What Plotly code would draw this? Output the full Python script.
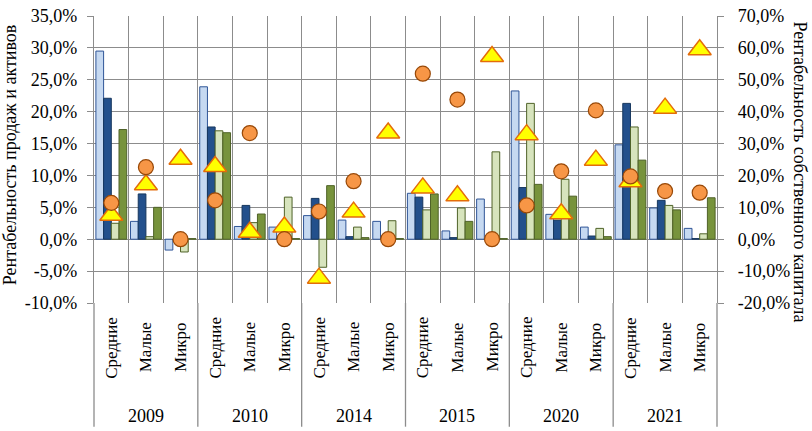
import plotly.graph_objects as go

years = ["2009", "2010", "2014", "2015", "2020", "2021"]
sizes = ["Средние", "Малые", "Микро"]
categories = [f"{y} {s}" for y in years for s in sizes]

# Left axis (%), bars
light_blue = [29.5, 2.8, -1.7, 23.9, 2.0, 1.9, 3.7, 3.0, 2.8, 7.2, 1.3, 6.3, 23.25, 3.9, 1.9, 14.8, 4.9, 1.7]
dark_blue = [22.1, 7.1, -0.1, 17.6, 5.3, 0.2, 6.4, 0.4, 0.1, 6.6, 0.25, 0.1, 8.1, 3.0, 0.5, 21.3, 6.1, 0.1]
light_green = [2.5, 0.4, -2.0, 17.0, 2.6, 6.6, -4.4, 1.9, 2.9, 4.6, 4.9, 13.7, 21.3, 9.4, 1.7, 17.6, 5.3, 0.85]
dark_green = [17.2, 5.0, 0.1, 16.7, 3.95, 0.1, 8.4, 0.25, 0.1, 7.1, 2.8, 0.1, 8.6, 6.75, 0.4, 12.4, 4.6, 6.5]

# Right axis (%), markers
circles = [11.4, 22.6, 0.0, 12.2, 33.3, 0.0, 8.7, 18.2, 0.0, 51.9, 43.8, 0.0, 10.6, 21.3, 40.4, 19.7, 15.1, 14.6]
triangles = [7.5, 17.1, 25.1, 22.8, 2.2, 3.8, -12.2, 8.5, 33.3, 16.1, 13.6, 57.3, 32.8, 8.0, 24.8, 18.0, 41.1, 59.4]

left_ticks = [-10, -5, 0, 5, 10, 15, 20, 25, 30, 35]
right_ticks = [-20, -10, 0, 10, 20, 30, 40, 50, 60, 70]


def pct(v):
    return f"{v:.1f}%".replace(".", ",")


FONT = "Liberation Serif, Times New Roman, Tinos, serif"
GRID = "#8c8c8c"
xs = list(range(len(categories)))

fig = go.Figure()
bar_specs = [
    ("Ряд 1", light_blue, "#c6d9f1", "#2f5597"),
    ("Ряд 2", dark_blue, "#23508c", "#17375e"),
    ("Ряд 3", light_green, "#d7e4bd", "#4f6228"),
    ("Ряд 4", dark_green, "#77933c", "#4f6228"),
]
for name, vals, fill, edge in bar_specs:
    fig.add_trace(go.Bar(x=xs, y=vals, name=name, marker=dict(color=fill, line=dict(color=edge, width=1)),
                         showlegend=False))

fig.add_trace(go.Scatter(x=xs, y=triangles, mode="markers", yaxis="y2", showlegend=False,
                         marker=dict(symbol="triangle-up", size=20, color="#ffff00",
                                     line=dict(color="#e46c0a", width=1.5))))
fig.add_trace(go.Scatter(x=xs, y=circles, mode="markers", yaxis="y2", showlegend=False,
                         marker=dict(symbol="circle", size=15, color="#f79646",
                                     line=dict(color="#984807", width=1.2))))

W, H = 812, 431
L, R, T, B = 94, 95, 6, 128
pw, ph = W - L - R, H - T - B

shapes = []
for k in range(len(years) + 1):
    shapes.append(dict(type="line", xref="paper", yref="paper", x0=k / len(years), x1=k / len(years),
                       y0=0, y1=-B / ph, line=dict(color=GRID, width=1.3)))

annotations = []
for i, c in enumerate(categories):
    annotations.append(dict(x=i, xref="x", y=(-46) / ph, yref="paper", text=sizes[i % 3], textangle=-90,
                            xanchor="center", yanchor="middle", showarrow=False,
                            font=dict(family=FONT, size=17, color="black")))
for k, y in enumerate(years):
    annotations.append(dict(x=3 * k + 1, xref="x", y=(-117) / ph, yref="paper", text=y, showarrow=False,
                            xanchor="center", yanchor="middle",
                            font=dict(family=FONT, size=18, color="black")))
annotations.append(dict(x=(10 - L) / pw, xref="paper", y=(303 - 150) / ph, yref="paper",
                        text="Рентабельность продаж и активов", textangle=-90, showarrow=False,
                        xanchor="center", yanchor="middle",
                        font=dict(family=FONT, size=18, color="black")))
annotations.append(dict(x=(800 - L) / pw, xref="paper", y=(303 - 167) / ph, yref="paper",
                        text="Рентабельность собственного капитала", textangle=90, showarrow=False,
                        xanchor="center", yanchor="middle",
                        font=dict(family=FONT, size=18, color="black")))

fig.update_layout(
    width=W, height=H, margin=dict(l=L, r=R, t=T, b=B),
    paper_bgcolor="white", plot_bgcolor="white",
    barmode="group", bargap=0.11, bargroupgap=0,
    font=dict(family=FONT, size=18, color="black"),
    xaxis=dict(range=[-0.5, len(categories) - 0.5], tickmode="array",
               tickvals=[i - 0.5 for i in range(len(categories) + 1)], showticklabels=False, ticks="",
               showgrid=True, gridcolor=GRID, gridwidth=1.3, zeroline=False, showline=False),
    yaxis=dict(range=[-10, 35], tickmode="array", tickvals=left_ticks, ticktext=[pct(v) for v in left_ticks],
               showgrid=True, gridcolor=GRID, gridwidth=1.3, zeroline=False, showline=True, linecolor=GRID,
               linewidth=1.3, ticks="outside", ticklen=6, tickcolor=GRID, ticklabelstandoff=6,
               ticklabeloverflow="allow",
               tickfont=dict(family=FONT, size=18, color="black")),
    yaxis2=dict(range=[-20, 70], overlaying="y", side="right", tickmode="array", tickvals=right_ticks,
                ticktext=[pct(v) for v in right_ticks], showgrid=False, zeroline=False, showline=True,
                linecolor=GRID, linewidth=1.3, ticks="outside", ticklen=6, tickcolor=GRID,
                ticklabelstandoff=10, ticklabeloverflow="allow",
                tickfont=dict(family=FONT, size=18, color="black")),
    shapes=shapes, annotations=annotations,
)

fig.write_html("out.html", config={"displayModeBar": False},
               post_script="document.body.style.margin='0';document.body.style.overflow='hidden';")
